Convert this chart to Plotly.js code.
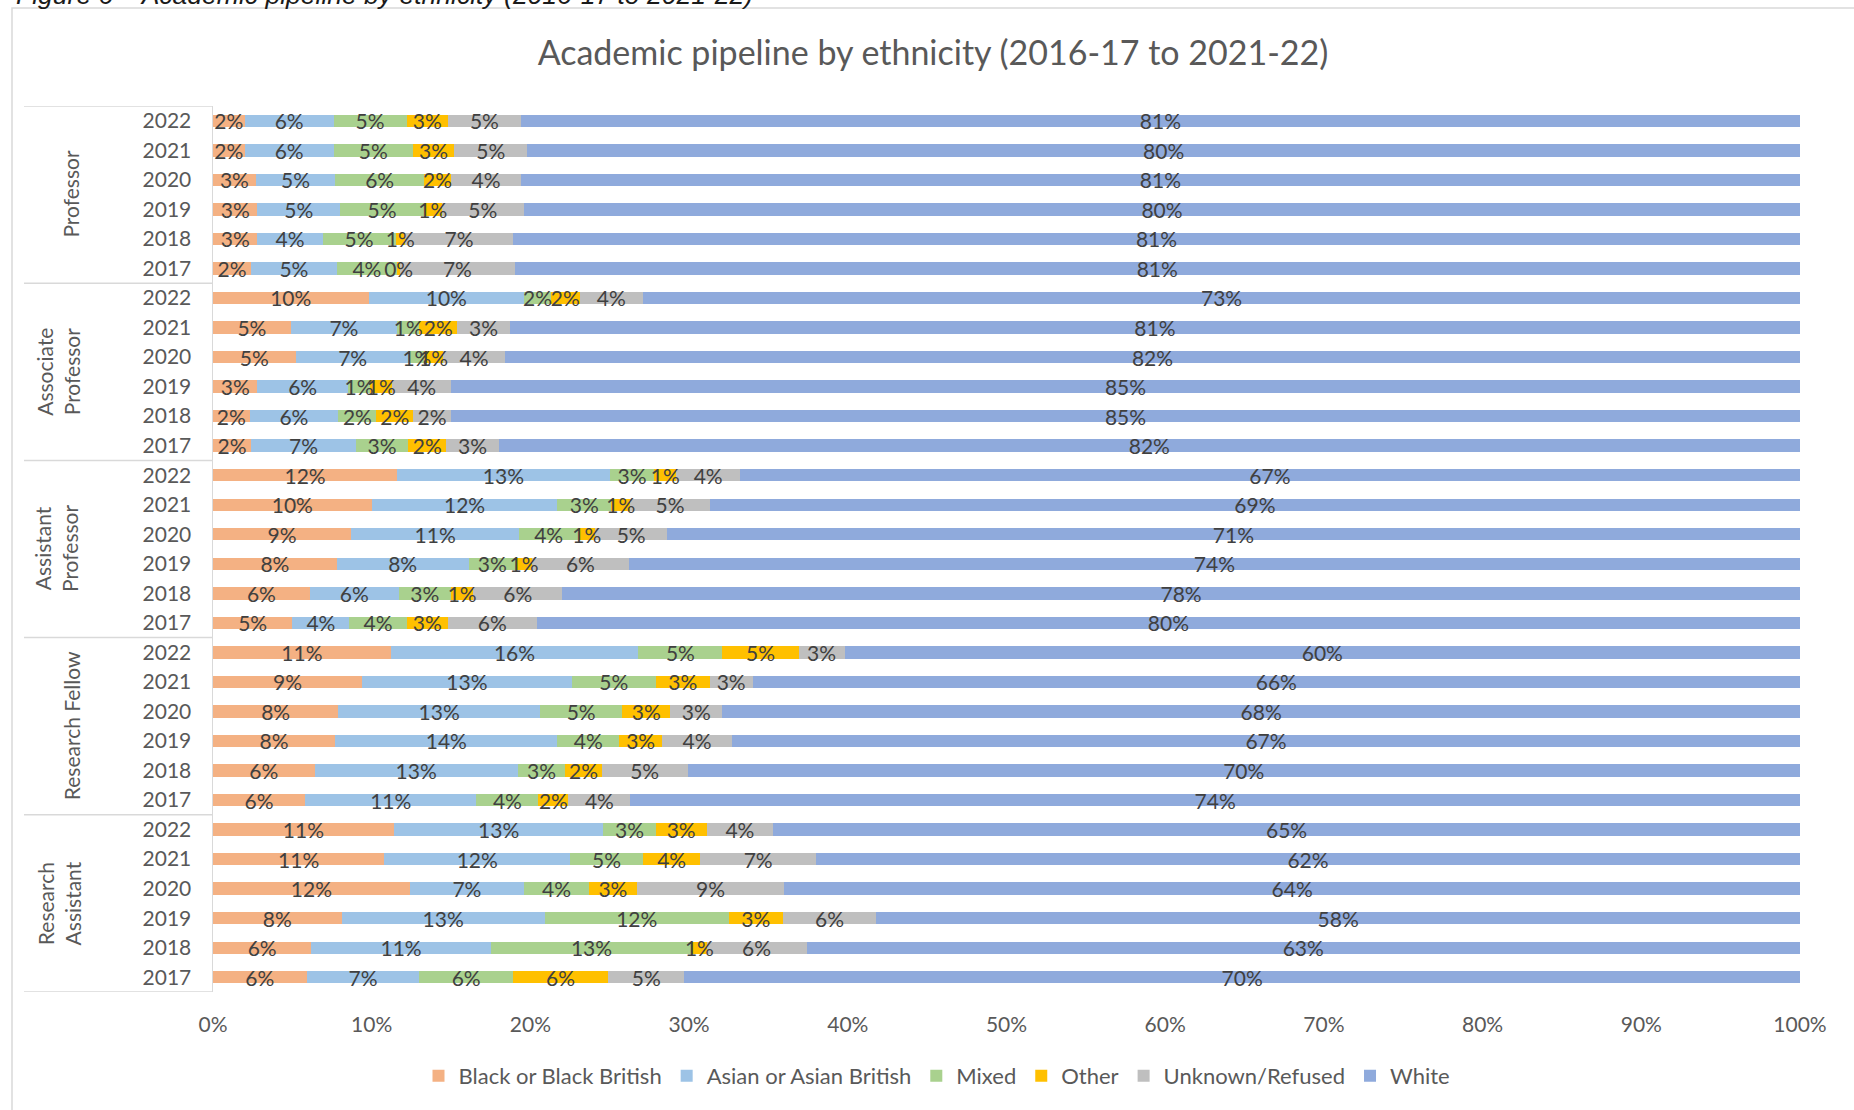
<!DOCTYPE html>
<html>
<head>
<meta charset="utf-8">
<script src="https://cdn.plot.ly/plotly-3.0.1.min.js"></script>
<style>html,body{margin:0;padding:0;background:#fff;}#chart{width:1854px;height:1110px;}</style>
</head>
<body>
<div id="chart"></div>
<script>
// Categories
const groups = ["Professor", "Associate Professor", "Assistant Professor", "Research Fellow", "Research Assistant"];
const groupLabels = ["Professor", "Associate<br>Professor", "Assistant<br>Professor", "Research Fellow", "Research<br>Assistant"];
const years = ["2022", "2021", "2020", "2019", "2018", "2017"];

// Series values (%), group-major, years 2022 -> 2017 within each group
const black = [
  2.0, 2.0, 2.7, 2.8, 2.8, 2.4,
  9.8, 4.9, 5.2, 2.8, 2.3, 2.4,
  11.6, 10.0, 8.7, 7.8, 6.1, 5.0,
  11.2, 9.4, 7.9, 7.7, 6.4, 5.8,
  11.4, 10.8, 12.4, 8.1, 6.2, 5.9
];
const asian = [
  5.6, 5.6, 5.0, 5.2, 4.1, 5.4,
  9.8, 6.7, 7.2, 5.7, 5.6, 6.6,
  13.4, 11.7, 10.6, 8.3, 5.6, 3.6,
  15.6, 13.2, 12.7, 14.0, 12.8, 10.8,
  13.2, 11.7, 7.2, 12.8, 11.3, 7.1
];
const mixed = [
  4.6, 5.0, 5.6, 5.3, 4.6, 3.8,
  1.7, 1.4, 0.9, 1.4, 2.4, 3.3,
  2.8, 3.4, 3.7, 3.0, 3.3, 3.6,
  5.3, 5.3, 5.2, 3.9, 3.0, 3.9,
  3.3, 4.6, 4.1, 11.6, 12.7, 5.9
];
const other = [
  2.6, 2.6, 1.7, 1.1, 0.6, 0.2,
  1.8, 2.4, 1.2, 1.4, 2.3, 2.4,
  1.4, 1.2, 1.1, 1.0, 1.4, 2.6,
  4.8, 3.4, 3.0, 2.7, 2.3, 1.9,
  3.2, 3.6, 3.0, 3.4, 0.9, 6.0
];
const unknown = [
  4.6, 4.6, 4.4, 5.2, 6.8, 7.2,
  4.0, 3.3, 3.9, 3.7, 2.4, 3.3,
  4.0, 5.0, 4.5, 6.1, 5.6, 5.6,
  2.9, 2.7, 3.3, 4.4, 5.4, 3.9,
  4.2, 7.3, 9.3, 5.9, 6.3, 4.8
];
const white = [
  80.6, 80.2, 80.6, 80.4, 81.1, 81.0,
  72.9, 81.3, 81.6, 85.0, 85.0, 82.0,
  66.8, 68.7, 71.4, 73.8, 78.0, 79.6,
  60.2, 66.0, 67.9, 67.3, 70.1, 73.7,
  64.7, 62.0, 64.0, 58.2, 62.6, 70.3
];
const xTicks = [0, 10, 20, 30, 40, 50, 60, 70, 80, 90, 100];
const xTickText = ["0%", "10%", "20%", "30%", "40%", "50%", "60%", "70%", "80%", "90%", "100%"];

const seriesNames = ["Black or Black British", "Asian or Asian British", "Mixed", "Other", "Unknown/Refused", "White"];
const seriesData = [black, asian, mixed, other, unknown, white];
const seriesColors = ["#F4B183", "#9DC3E6", "#A9D18E", "#FFC000", "#BFBFBF", "#8FAADC"];

// Build category ids and tick labels
const ids = [], yearText = [];
groups.forEach(g => years.forEach(y => { ids.push(g + " " + y); yearText.push(y); }));

const FONT = "Lato, 'Open Sans', sans-serif";
const GREY = "#595959";
const LINE = "#D9D9D9";

// coloured stacked bars (no text)
const barTraces = seriesNames.map((name, i) => ({
  type: "bar", orientation: "h", name: name,
  x: seriesData[i], y: ids, xaxis: "x", yaxis: "y",
  marker: {color: seriesColors[i], line: {width: 0}},
  hoverinfo: "name+x"
}));
// same stack on an overlaying axis, transparent, carrying the data labels on top of every bar
const labelTraces = seriesNames.map((name, i) => ({
  type: "bar", orientation: "h", name: name + " label", showlegend: false,
  x: seriesData[i], y: ids, xaxis: "x", yaxis: "y2",
  marker: {color: "rgba(0,0,0,0)", line: {width: 0}},
  texttemplate: "%{x:.0f}%",
  textposition: "inside",
  insidetextanchor: "middle",
  textangle: 0,
  constraintext: "none",
  textfont: {family: FONT, size: 21, color: "#404040"},
  cliponaxis: false,
  hoverinfo: "skip"
}));

// plot area in px
const L = 213, R = 1800, T = 106, B = 992;
const W = R - L, H = B - T;
const px = v => (v - L) / W;
const py = v => (B - v) / H;

const shapes = [];
const nPer = years.length;
for (let k = 0; k <= groups.length; k++) {
  shapes.push({type: "line", xref: "paper", yref: "y", x0: px(24), x1: 0, y0: k * nPer - 0.5, y1: k * nPer - 0.5, line: {color: LINE, width: 1.5}});
}
shapes.push({type: "rect", xref: "paper", yref: "paper", x0: px(12), x1: px(1880), y0: py(8), y1: py(1130), line: {color: LINE, width: 1.5}, fillcolor: "rgba(0,0,0,0)", layer: "below"});

const groupX = [71, 58, 56, 71, 59];
const annotations = groups.map((g, k) => ({
  xref: "paper", yref: "y",
  x: px(groupX[k]), y: k * nPer + (nPer - 1) / 2,
  text: groupLabels[k], showarrow: false, textangle: -90,
  xanchor: "center", yanchor: "middle",
  font: {family: FONT, size: 21, color: GREY}
}));
annotations.push({
  xref: "paper", yref: "paper", x: px(14), y: py(12), xanchor: "left", yanchor: "bottom",
  text: "<i>Figure 6 – Academic pipeline by ethnicity (2016-17 to 2021-22)</i>", showarrow: false,
  font: {family: "'Liberation Sans', Arial, sans-serif", size: 26.5, color: "#1a1a1a"}
});

const yCommon = {type: "category", categoryorder: "array", categoryarray: ids,
  range: [ids.length - 0.5, -0.5], showgrid: false, zeroline: false, fixedrange: true};

const layout = {
  width: 1854, height: 1110,
  margin: {l: L, r: 1854 - R, t: T, b: 1110 - B, pad: 0},
  paper_bgcolor: "#fff", plot_bgcolor: "#fff",
  font: {family: FONT, color: GREY},
  title: {text: "Academic pipeline by ethnicity (2016-17 to 2021-22)", font: {family: FONT, size: 34, color: GREY},
          xref: "paper", x: px(933), xanchor: "center", yref: "container", y: 1 - 53 / 1110, yanchor: "middle"},
  barmode: "stack",
  bargap: 0.58,
  showlegend: true,
  uniformtext: {minsize: 21, mode: "show"},
  xaxis: {range: [0, 100], tickmode: "array", tickvals: xTicks, ticktext: xTickText, showgrid: false, zeroline: false, showline: false,
          ticks: "", ticklabelstandoff: 18, tickfont: {family: FONT, size: 21, color: GREY}, fixedrange: true},
  yaxis: Object.assign({}, yCommon, {tickmode: "array", tickvals: ids, ticktext: yearText,
          showline: true, linecolor: LINE, linewidth: 1.5,
          ticks: "", ticklabelstandoff: 16, tickfont: {family: FONT, size: 21, color: GREY}}),
  yaxis2: Object.assign({}, yCommon, {overlaying: "y", side: "left", showticklabels: false, showline: false, ticks: ""}),
  legend: {orientation: "h", x: px(937), xanchor: "center", y: py(1076), yanchor: "middle",
           font: {family: FONT, size: 22, color: GREY}, traceorder: "normal", itemwidth: 30},
  shapes: shapes,
  annotations: annotations
};

Plotly.newPlot("chart", barTraces.concat(labelTraces), layout, {displayModeBar: false, staticPlot: true});
</script>
</body>
</html>
